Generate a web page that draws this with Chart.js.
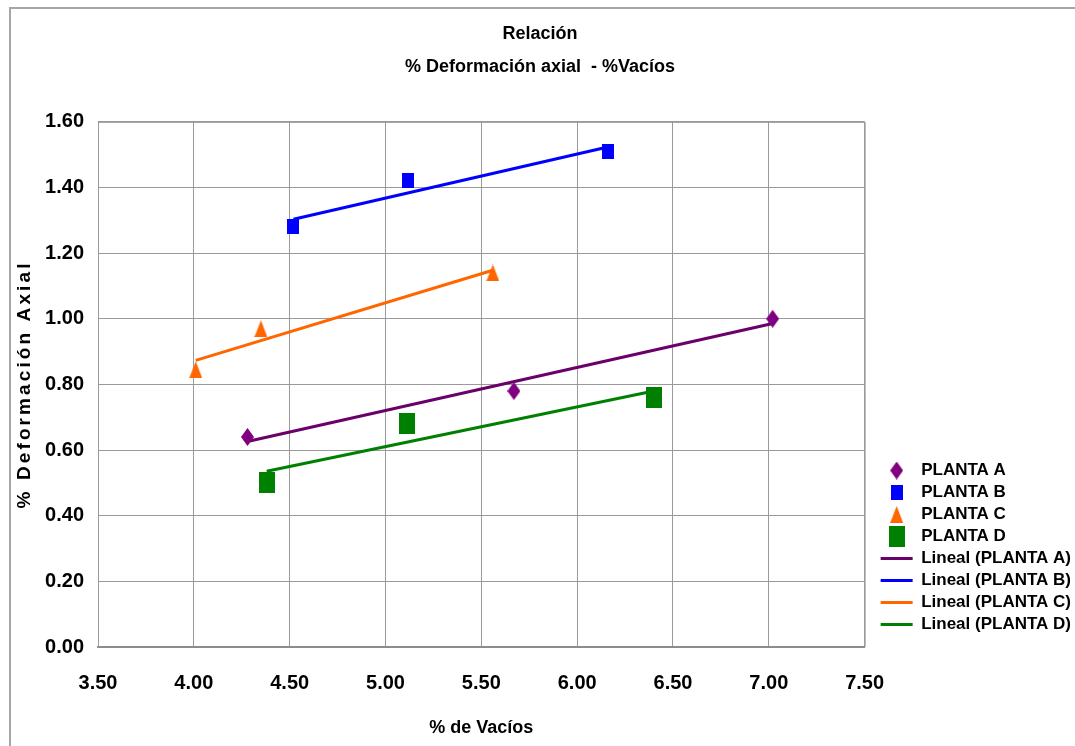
<!DOCTYPE html>
<html>
<head>
<meta charset="utf-8">
<script src="https://cdn.jsdelivr.net/npm/chart.js@4/dist/chart.umd.min.js"></script>
<style>
    html, body { margin: 0; padding: 0; background: #fff; }
    #wrap { position: relative; width: 1075px; height: 746px; overflow: hidden; }
    #frame { position: absolute; left: 9px; top: 7px; width: 1200px; height: 900px; border: 2px solid #a6a6a6; }
    canvas { position: absolute; left: 0; top: 0; }
</style>
</head>
<body>
<div id="wrap">
    <div id="frame"></div>
    <canvas id="chart" width="1075" height="746"></canvas>
</div>
<script>
// datos
const plantaA_x = [4.28, 5.67, 7.02];
const plantaA_y = [0.64, 0.78, 1.00];
const plantaB_x = [4.52, 5.12, 6.16];
const plantaB_y = [1.28, 1.42, 1.51];
const plantaC_x = [4.01, 4.35, 5.56];
const plantaC_y = [0.845, 0.97, 1.14];
const plantaD_x = [4.38, 5.11, 6.40];
const plantaD_y = [0.50, 0.68, 0.76];

const xTicks = [3.5, 4.0, 4.5, 5.0, 5.5, 6.0, 6.5, 7.0, 7.5];
const yTicks = [0, 0.2, 0.4, 0.6, 0.8, 1.0, 1.2, 1.4, 1.6];

const FONT = "'Liberation Sans', Arial, sans-serif";
const Y_TITLE = "% Deformación Axial";

// marcadores tipo Excel (un poco mas altos que anchos)
function marker(w, h, color, shape) {
    const c = document.createElement("canvas");
    c.width = w;
    c.height = h;
    const g = c.getContext("2d");
    g.fillStyle = color;
    g.beginPath();
    if (shape === "diamond") {
        g.moveTo(w / 2, 0); g.lineTo(w, h / 2); g.lineTo(w / 2, h); g.lineTo(0, h / 2);
    } else if (shape === "triangle") {
        g.moveTo(w / 2, 0); g.lineTo(w, h); g.lineTo(0, h);
    } else {
        g.rect(0, 0, w, h);
    }
    g.closePath();
    g.fill();
    return c;
}

const mkA = marker(13, 18, "#800080", "diamond");
const mkB = marker(12, 15, "#0000ff", "rect");
const mkC = marker(13, 17, "#ff6600", "triangle");
const mkD = marker(16, 21, "#008000", "rect");

// linea de tendencia lineal (minimos cuadrados), como en Excel
function lineal(xs, ys) {
    const n = xs.length;
    const mx = xs.reduce((a, b) => a + b, 0) / n;
    const my = ys.reduce((a, b) => a + b, 0) / n;
    let sxy = 0, sxx = 0;
    xs.forEach((x, i) => { sxy += (x - mx) * (ys[i] - my); sxx += (x - mx) * (x - mx); });
    const b = sxy / sxx;
    const x0 = Math.min(...xs), x1 = Math.max(...xs);
    return [{ x: x0, y: my + b * (x0 - mx) }, { x: x1, y: my + b * (x1 - mx) }];
}

const pts = (xs, ys) => xs.map((x, i) => ({ x: x, y: ys[i] }));

function puntos(label, xs, ys, img) {
    return { label: label, data: pts(xs, ys), pointStyle: img, pointRadius: 8, pointHoverRadius: 8, showLine: false };
}

function tendencia(label, xs, ys, color) {
    return {
        label: label, data: lineal(xs, ys), showLine: true, borderColor: color, backgroundColor: color,
        borderWidth: 3, pointRadius: 0, pointHoverRadius: 0, pointStyle: "line",
    };
}

new Chart(document.getElementById("chart"), {
    type: "scatter",
    data: {
        datasets: [
            puntos("PLANTA A", plantaA_x, plantaA_y, mkA),
            puntos("PLANTA B", plantaB_x, plantaB_y, mkB),
            puntos("PLANTA C", plantaC_x, plantaC_y, mkC),
            puntos("PLANTA D", plantaD_x, plantaD_y, mkD),
            tendencia("Lineal (PLANTA A)", plantaA_x, plantaA_y, "#6a006a"),
            tendencia("Lineal (PLANTA B)", plantaB_x, plantaB_y, "#0000ff"),
            tendencia("Lineal (PLANTA C)", plantaC_x, plantaC_y, "#ff6600"),
            tendencia("Lineal (PLANTA D)", plantaD_x, plantaD_y, "#008000"),
        ],
    },
    options: {
        responsive: false,
        animation: false,
        layout: { padding: { left: 10, right: 5, top: 0, bottom: 0 } },
        plugins: {
            title: {
                display: true,
                text: ["Relación", "% Deformación axial  - %Vacíos"],
                color: "#000",
                font: { family: FONT, size: 18, weight: "bold", lineHeight: 1.83 },
                padding: { top: 18, bottom: 38 },
            },
            legend: {
                position: "right",
                align: "end",
                labels: {
                    usePointStyle: true,
                    pointStyleWidth: 32,
                    color: "#000",
                    padding: 5,
                    font: { family: FONT, size: 17, weight: "bold" },
                },
            },
            tooltip: { enabled: false },
        },
        scales: {
            x: {
                type: "linear",
                min: 3.5,
                max: 7.5,
                afterBuildTicks: (s) => { s.ticks = xTicks.map((v) => ({ value: v })); },
                afterFit: (s) => { s.height = 99; },
                grid: { color: "#9a9a9a", lineWidth: 1, drawTicks: false },
                border: { color: "#8c8c8c", width: 2 },
                ticks: {
                    color: "#000",
                    padding: 24,
                    maxRotation: 0,
                    font: { family: FONT, size: 20, weight: "bold" },
                    callback: (v) => Number(v).toFixed(2),
                },
                title: {
                    display: true,
                    text: "% de Vacíos",
                    color: "#000",
                    font: { family: FONT, size: 18, weight: "bold" },
                    padding: { bottom: 7 },
                },
            },
            y: {
                min: 0,
                max: 1.6,
                afterBuildTicks: (s) => { s.ticks = yTicks.map((v) => ({ value: v })); },
                afterFit: (s) => { s.width = 88; },
                grid: { color: "#9a9a9a", lineWidth: 1, drawTicks: false },
                border: { color: "#9a9a9a", width: 1 },
                ticks: {
                    color: "#000",
                    padding: 14,
                    font: { family: FONT, size: 20, weight: "bold" },
                    callback: (v) => Number(v).toFixed(2),
                },
            },
        },
    },
    plugins: [{
        id: "marco",
        afterLayout(chart) {
            // leyenda a la altura de la referencia
            const lg = chart.legend;
            lg.left += 11;
            lg.right += 11;
            lg.bottom = 638;
        },
        afterDraw(chart) {
            const { ctx, chartArea: a } = chart;
            ctx.save();
            // borde derecho y superior del area de trazado
            ctx.strokeStyle = "#9a9a9a";
            ctx.lineWidth = 1;
            ctx.beginPath();
            ctx.moveTo(a.left, a.top + 0.5);
            ctx.lineTo(a.right + 0.5, a.top + 0.5);
            ctx.lineTo(a.right + 0.5, a.bottom);
            ctx.stroke();
            // titulo del eje Y, espaciado como en Excel
            ctx.translate(25, (a.top + a.bottom) / 2);
            ctx.rotate(-Math.PI / 2);
            ctx.font = "bold 19px " + FONT;
            ctx.letterSpacing = "3.1px";
            ctx.fillStyle = "#000";
            ctx.textAlign = "center";
            ctx.textBaseline = "middle";
            ctx.fillText(Y_TITLE, 0, 0);
            ctx.restore();
        },
    }],
});
</script>
</body>
</html>
